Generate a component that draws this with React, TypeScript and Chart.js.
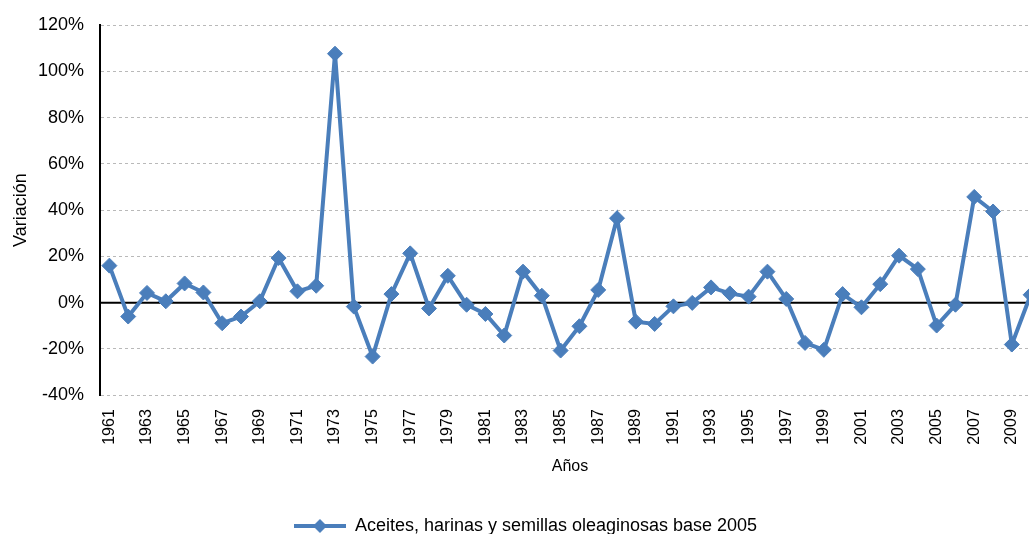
import React, { useEffect, useRef } from "react";
import { Chart, registerables } from "chart.js";

Chart.register(...registerables);

const years: string[] = [
  "1961", "1962", "1963", "1964", "1965", "1966", "1967", "1968", "1969", "1970",
  "1971", "1972", "1973", "1974", "1975", "1976", "1977", "1978", "1979", "1980",
  "1981", "1982", "1983", "1984", "1985", "1986", "1987", "1988", "1989", "1990",
  "1991", "1992", "1993", "1994", "1995", "1996", "1997", "1998", "1999", "2000",
  "2001", "2002", "2003", "2004", "2005", "2006", "2007", "2008", "2009", "2010",
];

const variacion: number[] = [
  16, -6, 4.2, 0.6, 8.3, 4.4, -8.9, -6, 0.6, 19.3,
  4.9, 7.3, 107.6, -1.7, -23.3, 3.7, 21.3, -2.5, 11.6, -0.9,
  -4.9, -14.2, 13.4, 3, -20.7, -10.2, 5.5, 36.5, -8.2, -9.2,
  -1.6, -0.1, 6.6, 4, 2.6, 13.4, 1.6, -17.4, -20.4, 3.7,
  -2, 8, 20.3, 14.5, -9.9, -0.9, 45.7, 39.4, -18.1, 3.4,
];

const seriesName = "Aceites, harinas y semillas oleaginosas base 2005";
const yTicks: number[] = [-40, -20, 0, 20, 40, 60, 80, 100, 120];

const BLUE = "#4A7EBB";
const FONT = "'Liberation Sans', Arial, sans-serif";

export default function App() {
  const ref = useRef<HTMLCanvasElement | null>(null);

  useEffect(() => {
    if (!ref.current) return;
    const legendIcon = document.createElement("canvas");
    legendIcon.width = 52;
    legendIcon.height = 16;
    const ic = legendIcon.getContext("2d")!;
    ic.strokeStyle = BLUE;
    ic.lineWidth = 4;
    ic.beginPath();
    ic.moveTo(0, 8);
    ic.lineTo(52, 8);
    ic.stroke();
    ic.fillStyle = BLUE;
    ic.beginPath();
    ic.moveTo(26, 1);
    ic.lineTo(33, 8);
    ic.lineTo(26, 15);
    ic.lineTo(19, 8);
    ic.closePath();
    ic.fill();

    const zeroLine = {
      id: "zeroLine",
      beforeDatasetsDraw(chart: any) {
        const { ctx, chartArea, scales } = chart;
        const y = scales.y.getPixelForValue(0);
        ctx.save();
        ctx.strokeStyle = "#000";
        ctx.lineWidth = 2;
        ctx.beginPath();
        ctx.moveTo(chartArea.left, y);
        ctx.lineTo(chartArea.right, y);
        ctx.stroke();
        ctx.restore();
      },
    };

    const chart = new Chart(ref.current, {
      type: "line",
      data: {
        labels: years,
        datasets: [
          {
            label: seriesName,
            data: variacion,
            borderColor: BLUE,
            backgroundColor: BLUE,
            borderWidth: 4,
            pointStyle: "rectRot",
            pointRadius: 7.5,
            pointBackgroundColor: BLUE,
            pointBorderColor: BLUE,
            pointBorderWidth: 1,
            tension: 0,
            clip: false as any,
          },
        ],
      },
      options: {
        animation: false,
        responsive: false,
        layout: { padding: { left: 10, right: 15, top: 9, bottom: 0 } },
        plugins: {
          tooltip: { enabled: false },
          legend: {
            position: "bottom",
            labels: {
              usePointStyle: true,
              pointStyle: legendIcon as any,
              pointStyleWidth: 52,
              color: "#000",
              font: { family: FONT, size: 18 },
              padding: 0,
            },
          },
        },
        scales: {
          x: {
            type: "category",
            offset: true,
            grid: { display: false },
            border: { display: false },
            ticks: {
              autoSkip: false,
              maxRotation: 90,
              minRotation: 90,
              padding: 6,
              color: "#000",
              font: { family: FONT, size: 16 },
              callback: (_v: any, i: number) => (i % 2 === 0 ? years[i] : ""),
            },
            title: {
              display: true,
              text: "Años",
              color: "#000",
              font: { family: FONT, size: 16 },
              padding: { top: 6, bottom: 41 },
            },
          },
          y: {
            min: -40,
            max: 120,
            afterBuildTicks: (axis: any) => {
              axis.ticks = yTicks.map((v) => ({ value: v }));
            },
            afterFit: (axis: any) => {
              axis.width = 90;
            },
            grid: {
              drawTicks: false,
              color: (c: any) => (c.tick && c.tick.value === 0 ? "rgba(0,0,0,0)" : "#b9b9b9"),
              lineWidth: 1,
            },
            border: { display: true, color: "#000", width: 2, dash: [3, 3] },
            ticks: {
              padding: 16,
              color: "#000",
              font: { family: FONT, size: 18, lineHeight: 1 },
              callback: (v: any) => `${v}%`,
            },
            title: {
              display: true,
              text: "Variación",
              color: "#000",
              font: { family: FONT, size: 18 },
              padding: { top: 0, bottom: 6 },
            },
          },
        },
      },
      plugins: [zeroLine],
    });
    return () => chart.destroy();
  }, []);

  return (
    <div
      style={{
        position: "fixed",
        left: 0,
        top: 0,
        width: 1029,
        height: 534,
        overflow: "hidden",
        background: "#fff",
      }}
    >
      <canvas ref={ref} width={1056} height={545} style={{ display: "block" }} />
    </div>
  );
}
